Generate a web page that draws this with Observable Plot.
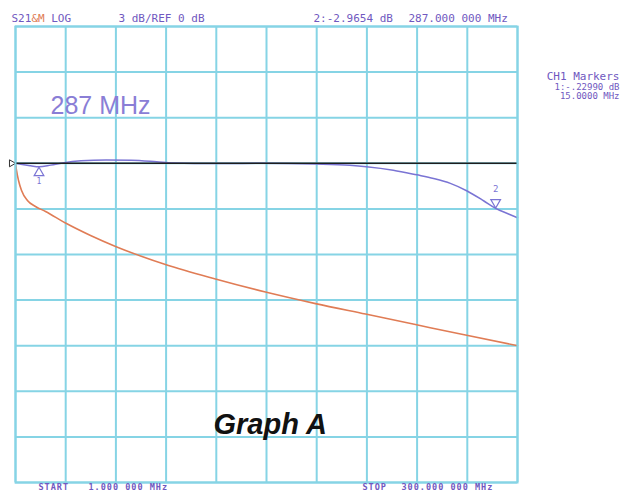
<!DOCTYPE html>
<html>
<head>
<meta charset="utf-8">
<script src="https://cdn.jsdelivr.net/npm/d3@7"></script>
<script src="https://cdn.jsdelivr.net/npm/@observablehq/plot@0.6"></script>
<style>
  html, body { margin: 0; padding: 0; background: #ffffff; overflow: hidden; }
  #chart svg { display: block; }
</style>
</head>
<body>
<div id="chart"></div>
<script>
// Frequency grid (MHz), start 1 MHz, stop 300 MHz, 10 divisions
const freqGrid = [1, 30.9, 60.8, 90.7, 120.6, 150.5, 180.4, 210.3, 240.2, 270.1, 300];
// Amplitude grid (dB), 3 dB/div, ref 0 dB
const dbGrid = [9, 6, 3, 0, -3, -6, -9, -12, -15, -18, -21];

// Memory trace (orange)
const memFreq = [1, 1.6, 2.8, 4.6, 8.1, 12.9, 18.9, 30.8, 45.7, 60.6, 75.5, 90.3, 120.1, 149.9, 179.7, 209.5, 239.2, 269, 300];
const memDb   = [0, -0.47, -1.13, -1.79, -2.45, -2.84, -3.17, -3.93, -4.75, -5.47, -6.1, -6.66, -7.61, -8.47, -9.23, -9.92, -10.61, -11.3, -12.0];

// S21 trace (purple)
const s21Freq = [1, 5, 10, 15, 22, 30, 40, 55, 70, 85, 95, 120, 147, 180, 200, 210, 226, 240, 250, 260, 270, 280, 287, 295, 300];
const s21Db   = [0, -0.08, -0.16, -0.23, -0.12, 0.04, 0.16, 0.22, 0.2, 0.1, 0.02, -0.02, 0.0, -0.05, -0.13, -0.22, -0.45, -0.76, -1.0, -1.32, -1.82, -2.48, -2.97, -3.35, -3.58];

// Reference trace (black)
const refFreq = [1, 300];
const refDb = [0, 0];

// Markers
const markerIds = ["1", "2"];
const markerFreq = [15, 287];
const markerDb = [-0.2299, -2.9654];

// Footer labels
const footerLabels = ["START", "1.000 000 MHz", "STOP", "300.000 000 MHz"];

const memory = memFreq.map((f, i) => ({f, db: memDb[i]}));
const s21 = s21Freq.map((f, i) => ({f, db: s21Db[i]}));
const ref = refFreq.map((f, i) => ({f, db: refDb[i]}));
const markers = markerIds.map((id, i) => ({id, f: markerFreq[i], db: markerDb[i]}));

const GRID = "#86d4e5";
const PURPLE = "#7a74d4";
const ORANGE = "#e07c55";
const TXT = "#7058c0";
const MONO = "DejaVu Sans Mono";

// Annotation helper: position relative to the frame's top-left corner
function label(text, left, baseline, opts = {}) {
  return Plot.text([text], {
    text: d => d,
    frameAnchor: "top-left",
    dx: left - 15,
    dy: baseline - 26,
    lineAnchor: "bottom",
    textAnchor: "start",
    fontFamily: MONO,
    fontSize: 11,
    fill: TXT,
    ...opts
  });
}

const chart = Plot.plot({
  width: 621,
  height: 491,
  marginLeft: 15,
  marginRight: 104,
  marginTop: 26,
  marginBottom: 9,
  x: {type: "linear", domain: [1, 300], axis: null},
  y: {domain: [-21, 9], axis: null},
  style: {background: "#ffffff", overflow: "visible"},
  marks: [
    Plot.ruleX(freqGrid, {stroke: GRID, strokeWidth: 2}),
    Plot.ruleY(dbGrid, {stroke: GRID, strokeWidth: 2}),
    Plot.line(memory, {x: "f", y: "db", stroke: ORANGE, strokeWidth: 1.6, curve: "monotone-x"}),
    Plot.line(s21, {x: "f", y: "db", stroke: PURPLE, strokeWidth: 1.5, curve: "monotone-x"}),
    Plot.line(ref, {x: "f", y: "db", stroke: "#1e1e1e", strokeWidth: 1.4}),
    // reference position indicator
    Plot.dot([ref[0]], {x: "f", y: "db", symbol: "triangle", rotate: 90, r: 2.6, stroke: "#333", fill: "white", strokeWidth: 1, dx: -4}),
    // marker 1 (below trace, pointing up)
    Plot.dot(markers.filter(d => d.id === "1"), {x: "f", y: "db", symbol: "triangle", r: 3.6, stroke: PURPLE, fill: "none", strokeWidth: 1.2, dy: 6}),
    Plot.text(markers.filter(d => d.id === "1"), {x: "f", y: "db", text: "id", dy: 15, fontSize: 8, fontFamily: MONO, fill: PURPLE}),
    // marker 2 (above trace, pointing down)
    Plot.dot(markers.filter(d => d.id === "2"), {x: "f", y: "db", symbol: "triangle", rotate: 180, r: 3.6, stroke: PURPLE, fill: "none", strokeWidth: 1.2, dy: -6}),
    Plot.text(markers.filter(d => d.id === "2"), {x: "f", y: "db", text: "id", dy: -19, fontSize: 9, fontFamily: MONO, fill: PURPLE}),
    Plot.frame({stroke: GRID, strokeWidth: 2}),
    // header
    label("S21", 11, 21),
    label("&M", 30.9, 21, {fill: ORANGE}),
    label("LOG", 50.7, 21),
    label("3 dB/REF 0 dB", 118, 21),
    label("2:-2.9654 dB", 313, 21),
    label("287.000 000 MHz", 408, 21),
    // marker readout
    label("CH1 Markers", 619, 79, {textAnchor: "end"}),
    label("1:-.22990 dB", 619, 89, {textAnchor: "end", fontSize: 9}),
    label("15.0000 MHz", 619, 98, {textAnchor: "end", fontSize: 9}),
    // big annotation
    label("287 MHz", 50, 113, {fontFamily: "Liberation Sans", fontSize: 25, fill: "#8a7ed6"}),
    label("Graph A", 213, 433, {fontFamily: "Liberation Sans", fontSize: 29, fontWeight: "bold", fontStyle: "italic", fill: "#111111"}),
    // footer
    label(footerLabels[0], 38, 489, {fontWeight: "bold", fontSize: 8.5}),
    label(footerLabels[1], 88, 489, {fontWeight: "bold", fontSize: 8.5}),
    label(footerLabels[2], 362, 489, {fontWeight: "bold", fontSize: 8.5}),
    label(footerLabels[3], 401, 489, {fontWeight: "bold", fontSize: 8.5})
  ]
});

// widen footer lettering to match the analyzer's font width
chart.querySelectorAll("text").forEach(t => {
  if (footerLabels.includes(t.textContent)) t.style.letterSpacing = "1px";
});

document.getElementById("chart").appendChild(chart);
</script>
</body>
</html>
